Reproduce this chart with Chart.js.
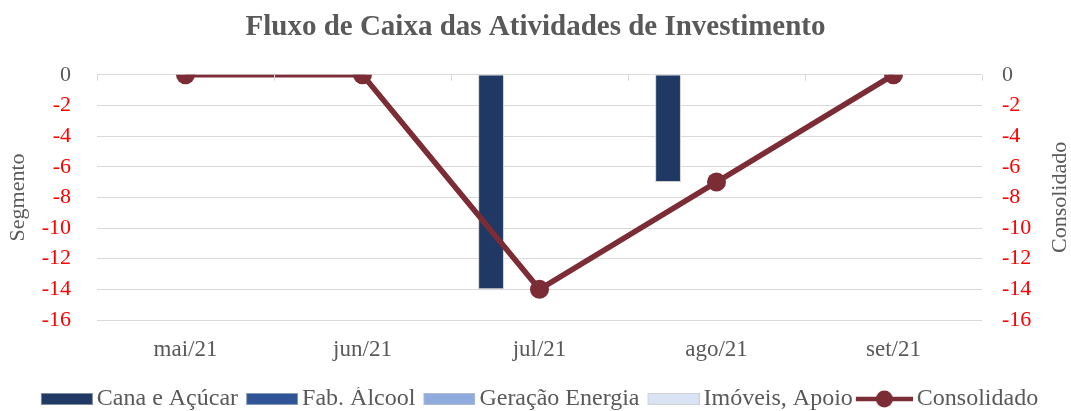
<!DOCTYPE html>
<html><head><meta charset="utf-8">
<script src="https://cdn.jsdelivr.net/npm/chart.js@4.4.1/dist/chart.umd.min.js"></script>
<style>html,body{margin:0;padding:0;background:#fff}#wrap{width:1071px;height:411px;position:relative}</style>
</head><body><div id="wrap"><canvas id="c"></canvas></div>
<script>
const categories = ['mai/21', 'jun/21', 'jul/21', 'ago/21', 'set/21'];
const canaAcucar = [0, 0, -14, -7, 0];
const fabAlcool = [0, 0, 0, 0, 0];
const geracaoEnergia = [0, 0, 0, 0, 0];
const imoveisApoio = [0, 0, 0, 0, 0];
const consolidado = [0, 0, -14, -7, 0];
const yTicks = [0, -2, -4, -6, -8, -10, -12, -14, -16];
const seriesNames = ['Cana e Açúcar', 'Fab. Álcool', 'Geração Energia', 'Imóveis, Apoio', 'Consolidado'];

const FONT = '"Liberation Serif", "Times New Roman", serif';
const GRAY = '#595959';
const RED = '#FF0000';
const GRID = '#D9D9D9';
const barColors = ['#1F3864', '#2F5597', '#8FAADC', '#DAE3F3'];
const lineColor = '#7B2C34';

function boxImg(color) {
  const c = document.createElement('canvas');
  c.width = 68; c.height = 24;
  const x = c.getContext('2d');
  x.fillStyle = color;
  x.fillRect(16, 6, 52, 12);
  x.strokeStyle = 'rgba(200,200,200,0.6)';
  x.lineWidth = 1;
  x.strokeRect(16.5, 6.5, 51, 11);
  return c;
}
function lineImg(color) {
  const c = document.createElement('canvas');
  c.width = 68; c.height = 24;
  const x = c.getContext('2d');
  x.strokeStyle = color;
  x.lineWidth = 4.5;
  x.beginPath(); x.moveTo(11, 12); x.lineTo(68, 12); x.stroke();
  x.fillStyle = color;
  x.beginPath(); x.arc(39.5, 12, 8.5, 0, Math.PI * 2); x.fill();
  return c;
}

const barSeries = [canaAcucar, fabAlcool, geracaoEnergia, imoveisApoio];
const datasets = barSeries.map((d, i) => ({
  type: 'bar',
  label: seriesNames[i],
  data: d,
  backgroundColor: barColors[i],
  borderColor: '#D0D0D0',
  borderWidth: (ctx) => (ctx.raw === 0 ? 0 : 1),
  categoryPercentage: 0.73,
  barPercentage: 0.8,
  yAxisID: 'y',
  order: 2
}));
datasets.push({
  type: 'line',
  label: seriesNames[4],
  data: consolidado,
  borderColor: lineColor,
  backgroundColor: lineColor,
  borderWidth: 5.5,
  pointRadius: 9.5,
  pointHoverRadius: 9.5,
  pointBackgroundColor: lineColor,
  pointBorderWidth: 0,
  tension: 0,
  yAxisID: 'y2',
  order: 1
});

const extras = {
  id: 'extras',
  afterDraw(chart) {
    const ctx = chart.ctx;
    const xs = chart.scales.x, ys = chart.scales.y, y2 = chart.scales.y2;
    const y0 = ys.getPixelForValue(0);
    ctx.save();
    ctx.strokeStyle = GRID;
    ctx.lineWidth = 1;
    for (let i = 0; i <= categories.length; i++) {
      const px = Math.round(xs.getPixelForValue(i - 0.5)) + 0.5;
      ctx.beginPath(); ctx.moveTo(px, y0); ctx.lineTo(px, y0 + 6); ctx.stroke();
    }
    ctx.translate(y2.right - 11, (chart.chartArea.top + chart.chartArea.bottom) / 2);
    ctx.rotate(-Math.PI / 2);
    ctx.fillStyle = GRAY;
    ctx.font = '22px ' + FONT;
    ctx.textAlign = 'center';
    ctx.textBaseline = 'middle';
    ctx.fillText('Consolidado', 0, 0);
    ctx.restore();
  }
};

const tickColor = (c) => (c.tick && c.tick.value === 0 ? GRAY : RED);

new Chart(document.getElementById('c'), {
  data: { labels: categories, datasets },
  options: {
    responsive: true,
    maintainAspectRatio: false,
    animation: false,
    layout: { padding: { left: 0, right: 0, top: 0, bottom: -10 } },
    plugins: {
      tooltip: { enabled: false },
      title: {
        display: true,
        text: 'Fluxo de Caixa das Atividades de Investimento',
        color: GRAY,
        font: { family: FONT, size: 29, weight: 'bold', lineHeight: 1.2 },
        padding: { top: 10, bottom: 30 }
      },
      legend: {
        position: 'bottom',
        labels: {
          usePointStyle: true,
          pointStyleWidth: 52,
          boxHeight: 22,
          padding: 0,
          color: GRAY,
          font: { family: FONT, size: 24 },
          generateLabels: (chart) => chart.data.datasets.map((ds, i) => ({
            text: ds.label,
            fillStyle: ds.backgroundColor,
            strokeStyle: ds.borderColor,
            lineWidth: 0,
            fontColor: GRAY,
            hidden: false,
            datasetIndex: i,
            pointStyle: ds.type === 'line' ? lineImg(ds.borderColor) : boxImg(ds.backgroundColor)
          }))
        }
      }
    },
    scales: {
      x: {
        offset: true,
        grid: { display: false, drawTicks: false },
        border: { display: false },
        ticks: { color: GRAY, font: { family: FONT, size: 23 }, padding: 16, maxRotation: 0 },
        afterFit: (s) => { s.height = 67; }
      },
      y: {
        position: 'left',
        min: -16, max: 0,
        afterBuildTicks: (s) => { s.ticks = yTicks.map(v => ({ value: v })); },
        grid: { color: GRID, lineWidth: 1, drawTicks: false },
        border: { display: false },
        ticks: { color: tickColor, font: { family: FONT, size: 22 }, padding: 26 },
        title: { display: true, text: 'Segmento', color: GRAY, font: { family: FONT, size: 22, lineHeight: 1.2 }, padding: { top: 5, bottom: 0 } },
        afterFit: (s) => { s.width = 97; }
      },
      y2: {
        position: 'right',
        min: -16, max: 0,
        afterBuildTicks: (s) => { s.ticks = yTicks.map(v => ({ value: v })); },
        grid: { display: false, drawTicks: false },
        border: { display: false },
        ticks: { color: tickColor, font: { family: FONT, size: 22 }, padding: 20 },
        afterFit: (s) => { s.width = 89; }
      }
    }
  },
  plugins: [extras]
});
</script></body></html>
